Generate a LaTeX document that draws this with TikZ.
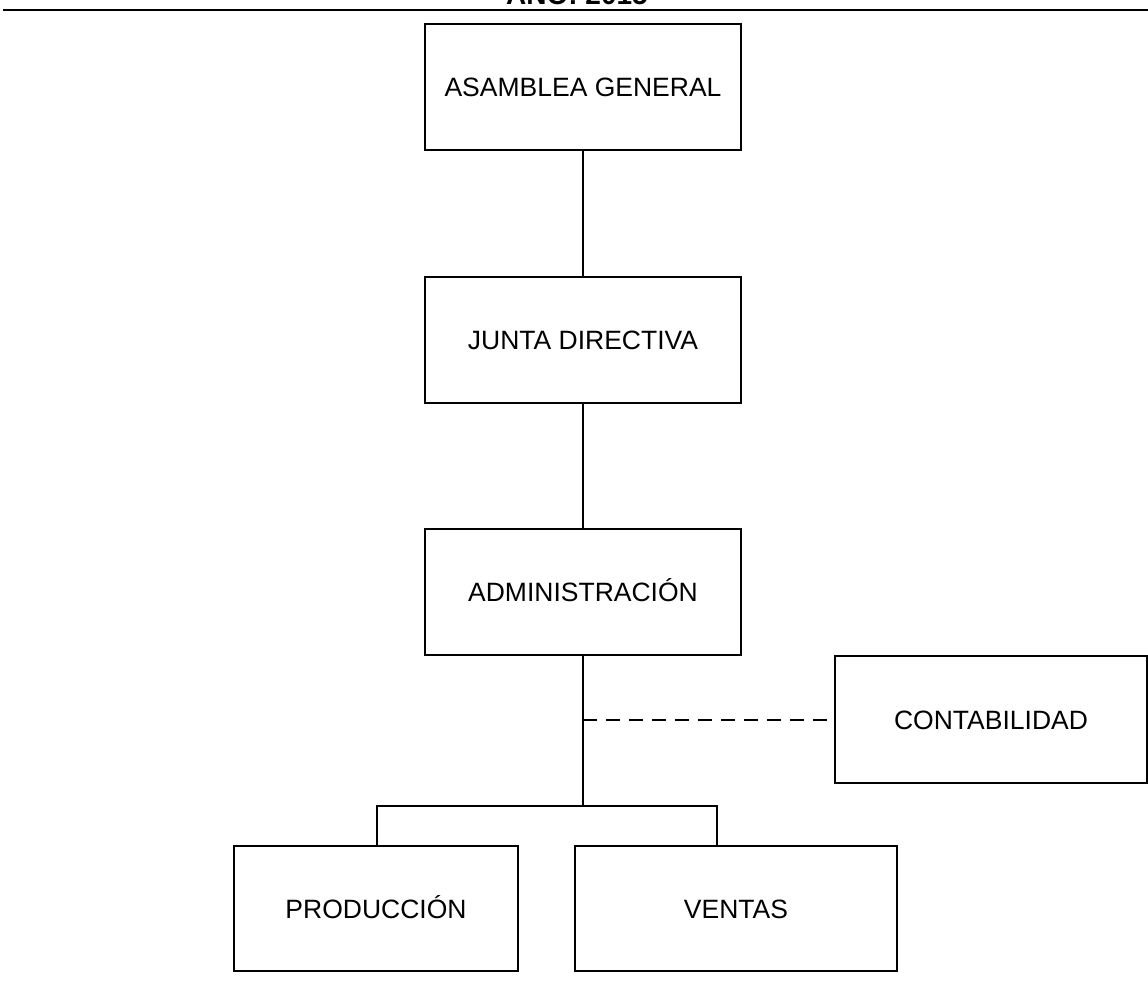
\documentclass[tikz,border=0pt]{standalone}
\usepackage{fontspec}
\setmainfont{Liberation Sans}
\begin{document}
\begin{tikzpicture}[x=1pt,y=-1pt,
  unit/.style={draw=black, line width=2pt, minimum width=#1, minimum height=126pt,
    inner sep=0pt, text height=19pt, text depth=0pt,
    font=\fontsize{26.5}{30}\selectfont},
  link/.style={draw=black, line width=2pt},
  staff/.style={link, dash pattern=on 14pt off 9pt}]
  \useasboundingbox (0,0) rectangle (1148,981);
  % title band at the top, partly above the page edge
  \node[anchor=base, font=\bfseries\fontsize{28}{32}\selectfont] (title) at (577,5) {AÑO: 2015};
  \coordinate (ruleL) at (3,10);
  \coordinate (ruleR) at (1148,10);
  \draw[link] (ruleL) -- (ruleR);

  % line of command
  \node[unit=316pt] (asamblea) at (583,87.5) {ASAMBLEA GENERAL};
  \node[unit=316pt] (junta) at (583,340) {JUNTA DIRECTIVA};
  \node[unit=316pt] (admin) at (583,592) {ADMINISTRACIÓN};
  \node[unit=312pt, minimum height=127pt] (conta) at (991,719.5) {CONTABILIDAD};
  \node[unit=284pt, minimum height=125pt] (prod) at (376,908.5) {PRODUCCIÓN};
  \node[unit=322pt, minimum height=125pt] (ventas) at (736,908.5) {VENTAS};

  \draw[link] (asamblea) -- (junta);
  \draw[link] (junta) -- (admin);

  % staff unit and branching below administration
  \coordinate (staffpt) at (583,719.5);
  \coordinate (fork) at (583,806);
  \coordinate (forkL) at (377,806);
  \coordinate (forkR) at (717,806);
  \draw[link] (admin.south) -- (fork);
  \draw[staff] (staffpt) -- (conta.west);
  \draw[link] (prod.north -| forkL) -- (forkL) -- (forkR) -- (ventas.north -| forkR);
\end{tikzpicture}
\end{document}
